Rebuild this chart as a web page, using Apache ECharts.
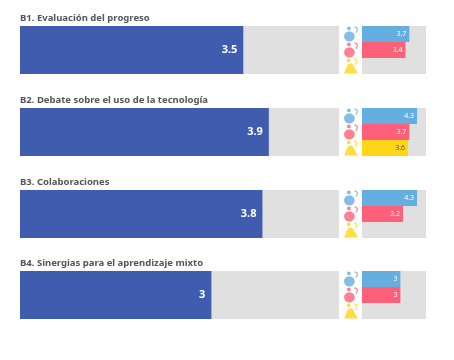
<!DOCTYPE html>
<html>
<head>
<meta charset="utf-8">
<style>
html, body { margin: 0; padding: 0; background: #fff; }
#main { width: 454px; height: 360px; }
</style>
<script src="https://cdn.jsdelivr.net/npm/echarts@6/dist/echarts.min.js"></script>
</head>
<body>
<div id="main"></div>
<script>
// datos
const titles = [
    'B1. Evaluación del progreso',
    'B2. Debate sobre el uso de la tecnología',
    'B3. Colaboraciones',
    'B4. Sinergias para el aprendizaje mixto'
];
const overall = [3.5, 3.9, 3.8, 3];
const groupA = [3.7, 4.3, 4.3, 3];
const groupB = [3.4, 3.7, 3.2, 3];
const groupC = [null, 3.6, null, null];
const groups = ['a', 'b', 'c'];

const panelTops = [26, 108, 190, 271];
const panelHeight = 48;
const colors = ['#65aee0', '#fd6078', '#ffd617'];
// cabeza + cuerpo + arco
const arc = 'M10.500 0c3 0 4.500 2 3.500 4.500l-1.500 2.500-1-.6 1.500-2.400c.5-1.500-.5-3-2.500-3z';
const roundIcon = 'path://M5 0a2 2 0 1 0 0 4a2 2 0 1 0 0-4zM5.500 5a5.500 5.500 0 1 0 0 11a5.500 5.500 0 1 0 0-11z' + arc;
const triangleIcon = 'path://M5 0a2 2 0 1 0 0 4a2 2 0 1 0 0-4zM7 5c2 0 3 1.500 4 4l4 7H0l3-7c1-2.500 2-4 4-4z' + arc;

const grid = [], xAxis = [], yAxis = [], series = [], title = [];
titles.forEach((text, i) => {
    title.push({
        text: text,
        left: 20,
        top: panelTops[i] - 13,
        padding: 0,
        textStyle: { fontFamily: 'Noto Sans', fontSize: 9.5, fontWeight: 'bold', color: '#555' }
    });
    // panel izquierdo
    grid.push({ left: 20, width: 319, top: panelTops[i], height: panelHeight, show: true, backgroundColor: '#e0e0e0', borderWidth: 0 });
    xAxis.push({ type: 'value', min: 0, max: 5, show: false, gridIndex: grid.length - 1 });
    yAxis.push({ type: 'category', data: [text], show: false, gridIndex: grid.length - 1 });
    series.push({
        type: 'bar',
        xAxisIndex: grid.length - 1,
        yAxisIndex: grid.length - 1,
        barWidth: '100%',
        silent: true,
        itemStyle: { color: '#3f5cae' },
        label: {
            show: true, position: 'insideRight', distance: 6,
            fontFamily: 'Noto Sans', fontSize: 11, fontWeight: 'bold', color: '#fff'
        },
        data: [overall[i]]
    });
    // panel derecho
    grid.push({ left: 362, width: 64, top: panelTops[i], height: panelHeight, show: true, backgroundColor: '#e0e0e0', borderWidth: 0 });
    xAxis.push({ type: 'value', min: 0, max: 5, show: false, gridIndex: grid.length - 1 });
    yAxis.push({ type: 'category', data: groups, inverse: true, show: false, gridIndex: grid.length - 1 });
    const values = [groupA[i], groupB[i], groupC[i]];
    series.push({
        type: 'bar',
        xAxisIndex: grid.length - 1,
        yAxisIndex: grid.length - 1,
        barWidth: '100%',
        silent: true,
        label: {
            show: true, position: 'insideRight', distance: 3,
            fontFamily: 'Noto Sans', fontSize: 7
        },
        data: values.map((v, k) => ({
            value: v,
            itemStyle: { color: colors[k] },
            label: { color: k === 2 ? '#555' : '#fff' }
        }))
    });
    // iconos
    series.push({
        type: 'scatter',
        xAxisIndex: grid.length - 1,
        yAxisIndex: grid.length - 1,
        silent: true,
        clip: false,
        symbolOffset: [-11, 0],
        data: groups.map((g, k) => ({
            value: [0, g],
            symbol: k === 2 ? triangleIcon : roundIcon,
            symbolSize: [14, 15],
            itemStyle: { color: colors[k] }
        }))
    });
});

const myChart = echarts.init(document.getElementById('main'), null, { renderer: 'canvas' });
myChart.setOption({ animation: false, title, grid, xAxis, yAxis, series });
</script>
</body>
</html>
